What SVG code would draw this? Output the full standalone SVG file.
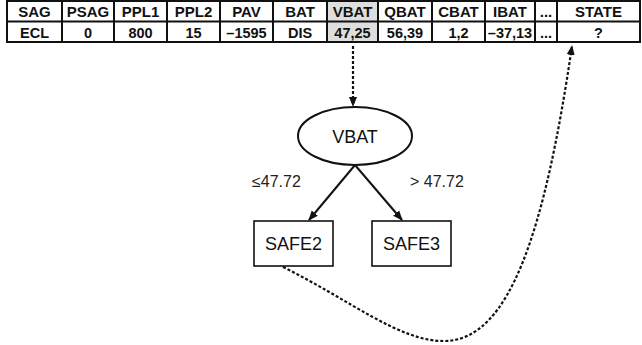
<svg xmlns="http://www.w3.org/2000/svg" width="642" height="345" viewBox="0 0 642 345">
<style>
.th{font-family:"Liberation Sans",Arial,sans-serif;font-weight:bold;font-size:15px;text-anchor:middle;fill:#111}
.td{font-family:"Liberation Sans",Arial,sans-serif;font-weight:bold;font-size:14.5px;text-anchor:middle;fill:#111}
.grid{stroke:#111;stroke-width:2;fill:none}
.node{fill:#fff;stroke:#111;stroke-width:2}
.box{fill:#fff;stroke:#111;stroke-width:1.6}
.lbl{font-family:"Liberation Sans",Arial,sans-serif;font-size:18px;text-anchor:middle;fill:#111}
.edge{font-family:"Liberation Sans",Arial,sans-serif;font-size:16px;fill:#222}
.solid{stroke:#111;stroke-width:2;fill:none}
.dash{stroke:#111;stroke-width:2.2;fill:none;stroke-dasharray:3 2}
</style>
<defs>
<marker id="ah" viewBox="0 0 10 10" refX="9" refY="5" markerWidth="5" markerHeight="5" orient="auto" markerUnits="userSpaceOnUse">
<path d="M0,0 L10,5 L0,10 z" fill="#111"/>
</marker>
<marker id="ah2" viewBox="0 0 10 10" refX="9" refY="5" markerWidth="10" markerHeight="10" orient="auto" markerUnits="userSpaceOnUse">
<path d="M0,1 L10,5 L0,9 z" fill="#111"/>
</marker>
</defs>
<g id="table">
<rect x="327" y="1" width="51" height="41" fill="#dedede"/>
<rect x="7" y="1" width="633" height="41" class="grid" stroke-width="2.5"/>
<path class="grid" d="M7,21.5H640 M62,1V42 M114,1V42 M167,1V42 M220,1V42 M273,1V42 M327,1V42 M378,1V42 M432,1V42 M485,1V42 M535,1V42 M557,1V42"/>
<text class="th" x="34.5" y="17">SAG</text>
<text class="th" x="88" y="17">PSAG</text>
<text class="th" x="140.5" y="17">PPL1</text>
<text class="th" x="193.5" y="17">PPL2</text>
<text class="th" x="246.5" y="17">PAV</text>
<text class="th" x="300" y="17">BAT</text>
<text class="th" x="352.5" y="17">VBAT</text>
<text class="th" x="405" y="17">QBAT</text>
<text class="th" x="458.5" y="17">CBAT</text>
<text class="th" x="510" y="17">IBAT</text>
<text class="th" x="546" y="17">...</text>
<text class="th" x="598.5" y="17">STATE</text>
<text class="td" x="34.5" y="37.5">ECL</text>
<text class="td" x="88" y="37.5">0</text>
<text class="td" x="140.5" y="37.5">800</text>
<text class="td" x="193.5" y="37.5">15</text>
<text class="td" x="246.5" y="37.5">–1595</text>
<text class="td" x="300" y="37.5">DIS</text>
<text class="td" x="352.5" y="37.5">47,25</text>
<text class="td" x="405" y="37.5">56,39</text>
<text class="td" x="458.5" y="37.5">1,2</text>
<text class="td" x="510" y="37.5">–37,13</text>
<text class="td" x="546" y="37.5">...</text>
<text class="td" x="598.5" y="37.5">?</text>
</g>
<g id="connectors">
<path class="dash" d="M353,46 V106" marker-end="url(#ah2)"/>
<path class="solid" d="M355,165 L309,220" marker-end="url(#ah2)"/>
<path class="solid" d="M355,165 L402,220" marker-end="url(#ah2)"/>
<path class="dash" d="M283,267 C350,300 400,342 445,341 C510,340 545,230 572,46" marker-end="url(#ah2)"/>
<text class="edge" x="252" y="187">≤47.72</text>
<text class="edge" x="410" y="187">&gt; 47.72</text>
</g>
<g id="vbat">
<ellipse class="node" cx="355" cy="136" rx="57" ry="29"/>
<text class="lbl" x="355" y="143">VBAT</text>
</g>
<g id="safe2">
<rect class="box" x="254" y="221" width="79" height="45"/>
<text class="lbl" x="293.5" y="250">SAFE2</text>
</g>
<g id="safe3">
<rect class="box" x="372" y="221" width="79" height="45"/>
<text class="lbl" x="411.5" y="250">SAFE3</text>
</g>
</svg>
